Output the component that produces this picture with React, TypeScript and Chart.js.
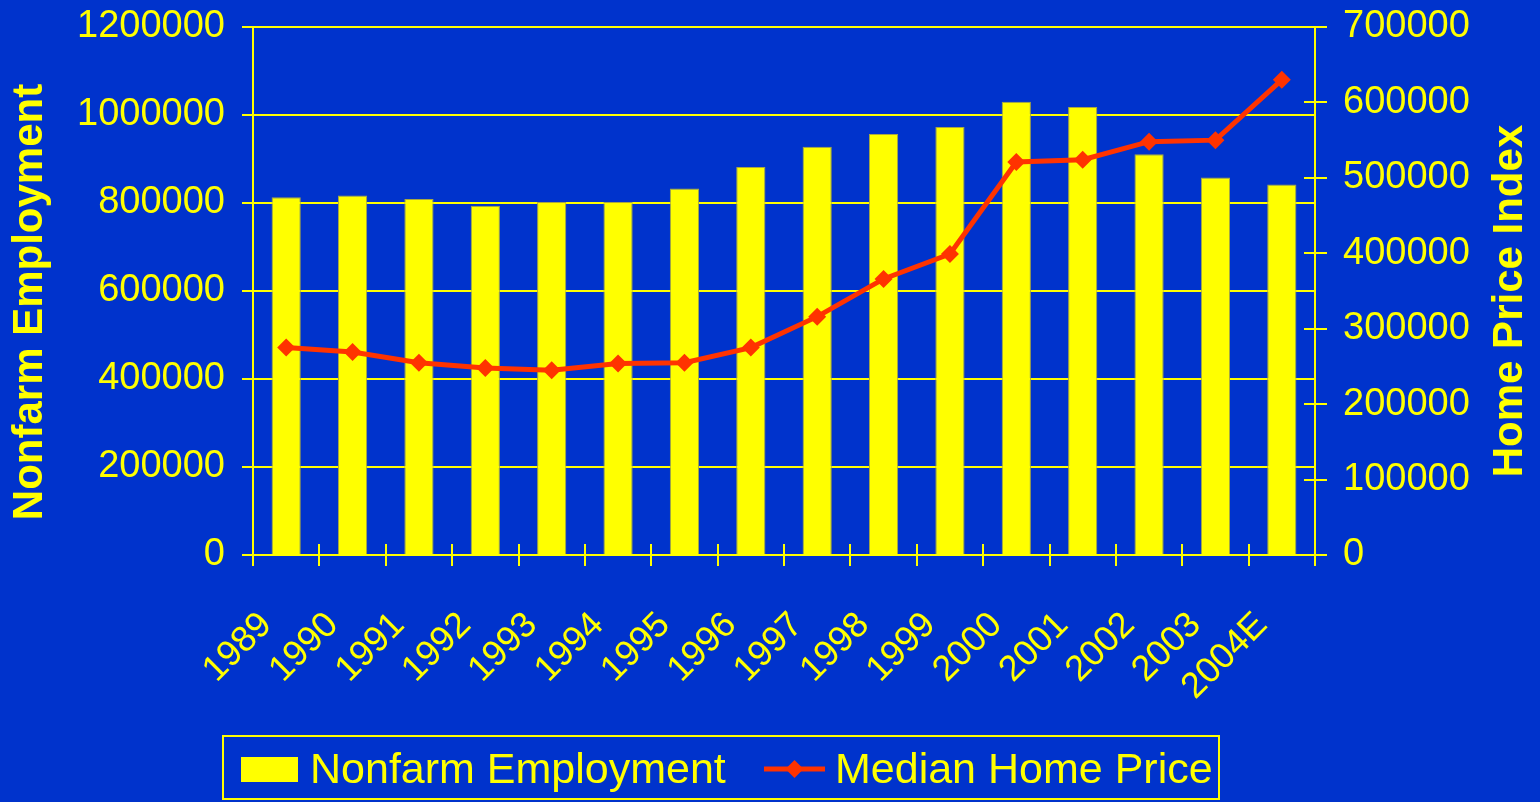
import { useEffect, useRef } from "react";
import { Chart, registerables } from "chart.js";

Chart.register(...registerables);

const years = ["1989", "1990", "1991", "1992", "1993", "1994", "1995", "1996", "1997", "1998", "1999", "2000", "2001", "2002", "2003", "2004E"];
const employment = [813000, 817000, 809000, 794000, 802000, 802000, 833000, 882000, 928000, 957000, 973000, 1030000, 1018000, 911000, 858000, 842000];
const homePrice = [275000, 269000, 255000, 248000, 245000, 254000, 255000, 275000, 316000, 366000, 399000, 521000, 524000, 548000, 550000, 630000];

const leftTitle = "Nonfarm Employment";
const rightTitle = "Home Price Index";
const barLabel = "Nonfarm Employment";
const lineLabel = "Median Home Price";

const BG = "#0033CC";
const YEL = "#FFFF00";
const RED = "#FF3300";
const FONT = "'Liberation Sans', Arial, Helvetica, sans-serif";

const decorPlugin = {
  id: "decor",
  beforeDraw(chart: any) {
    const ctx = chart.ctx;
    ctx.save();
    ctx.fillStyle = BG;
    ctx.fillRect(0, 0, chart.width, chart.height);
    ctx.restore();
  },
  afterDraw(chart: any) {
    const ctx = chart.ctx;
    const area = chart.chartArea;
    const xs = chart.scales.x;
    const yr = chart.scales.y1;
    ctx.save();
    ctx.strokeStyle = YEL;
    ctx.lineWidth = 2;
    // inner parts of crossing tick marks on x axis
    for (let i = 0; i <= years.length; i++) {
      const px = Math.round(xs.getPixelForValue(i - 0.5));
      ctx.beginPath();
      ctx.moveTo(px, area.bottom - 11);
      ctx.lineTo(px, area.bottom);
      ctx.stroke();
    }
    // inner parts of crossing tick marks on right axis
    yr.ticks.forEach((t: any) => {
      const py = Math.round(yr.getPixelForValue(t.value));
      ctx.beginPath();
      ctx.moveTo(area.right - 11, py);
      ctx.lineTo(area.right, py);
      ctx.stroke();
    });

    // axis titles
    ctx.fillStyle = YEL;
    ctx.font = `bold 42px ${FONT}`;
    ctx.textAlign = "center";
    ctx.textBaseline = "middle";
    ctx.save();
    ctx.translate(30, 302);
    ctx.rotate(-Math.PI / 2);
    ctx.fillText(leftTitle, 0, 0);
    ctx.restore();
    ctx.save();
    ctx.translate(1510, 301);
    ctx.rotate(-Math.PI / 2);
    ctx.fillText(rightTitle, 0, 0);
    ctx.restore();

    // legend
    ctx.strokeStyle = YEL;
    ctx.lineWidth = 2;
    ctx.strokeRect(223, 736, 996, 63);
    ctx.fillStyle = YEL;
    ctx.fillRect(241, 757, 57, 25);
    ctx.font = `43px ${FONT}`;
    ctx.textAlign = "left";
    ctx.textBaseline = "alphabetic";
    ctx.fillText(barLabel, 310, 783);
    ctx.strokeStyle = RED;
    ctx.lineWidth = 5;
    ctx.beginPath();
    ctx.moveTo(764, 769);
    ctx.lineTo(825, 769);
    ctx.stroke();
    ctx.fillStyle = RED;
    ctx.beginPath();
    ctx.moveTo(794.5 - 9, 769);
    ctx.lineTo(794.5, 769 - 9);
    ctx.lineTo(794.5 + 9, 769);
    ctx.lineTo(794.5, 769 + 9);
    ctx.closePath();
    ctx.fill();
    ctx.fillStyle = YEL;
    ctx.fillText(lineLabel, 835, 783);
    ctx.restore();
  },
};

export default function App() {
  const ref = useRef<HTMLCanvasElement | null>(null);

  useEffect(() => {
    document.body.style.margin = "0";
    document.body.style.background = BG;
    const canvas = ref.current;
    if (!canvas) return;
    const chart = new Chart(canvas, {
      type: "bar",
      data: {
        labels: years,
        datasets: [
          {
            type: "line",
            label: lineLabel,
            data: homePrice,
            yAxisID: "y1",
            borderColor: RED,
            backgroundColor: RED,
            borderWidth: 5,
            tension: 0,
            pointStyle: "rectRot",
            pointRadius: 9,
            pointBorderWidth: 0,
            pointBackgroundColor: RED,
            order: 0,
          } as any,
          {
            type: "bar",
            label: barLabel,
            data: employment,
            yAxisID: "y",
            backgroundColor: YEL,
            borderColor: "#A8A840",
            borderWidth: 1,
            categoryPercentage: 1,
            barPercentage: 0.44,
            order: 1,
          },
        ],
      },
      options: {
        responsive: false,
        animation: false,
        layout: { padding: { top: 27, left: 0, right: 0, bottom: 0 } },
        plugins: {
          legend: { display: false },
          tooltip: { enabled: false },
          title: { display: false },
        },
        scales: {
          x: {
            offset: true,
            grid: {
              display: true,
              drawOnChartArea: false,
              offset: true,
              tickLength: 11,
              color: YEL,
              lineWidth: 2,
            },
            border: { display: true, color: YEL, width: 2 },
            ticks: {
              color: YEL,
              font: { family: FONT, size: 36 },
              maxRotation: 45,
              minRotation: 45,
              autoSkip: false,
              padding: 38,
              labelOffset: -20,
            },
            afterFit: (s: any) => {
              s.height = 247;
              s.paddingLeft = 0;
              s.paddingRight = 0;
            },
          },
          y: {
            position: "left",
            min: 0,
            max: 1200000,
            ticks: {
              stepSize: 200000,
              color: YEL,
              font: { family: FONT, size: 38 },
              padding: 17,
              callback: (v: any) => String(v),
            },
            grid: { color: YEL, lineWidth: 2, tickLength: 11 },
            border: { display: true, color: YEL, width: 2 },
            afterFit: (s: any) => {
              s.width = 253;
              s.paddingTop = 0;
              s.paddingBottom = 0;
            },
          },
          y1: {
            position: "right",
            min: 0,
            max: 700000,
            ticks: {
              stepSize: 100000,
              color: YEL,
              font: { family: FONT, size: 38 },
              padding: 16,
              callback: (v: any) => String(v),
            },
            grid: { drawOnChartArea: false, color: YEL, lineWidth: 2, tickLength: 12 },
            border: { display: true, color: YEL, width: 2 },
            afterFit: (s: any) => {
              s.width = 225;
              s.paddingTop = 0;
              s.paddingBottom = 0;
            },
          },
        },
      },
      plugins: [decorPlugin],
    });
    return () => chart.destroy();
  }, []);

  return (
    <div style={{ width: 1540, height: 802, background: BG }}>
      <canvas ref={ref} width={1540} height={802} style={{ display: "block" }} />
    </div>
  );
}
